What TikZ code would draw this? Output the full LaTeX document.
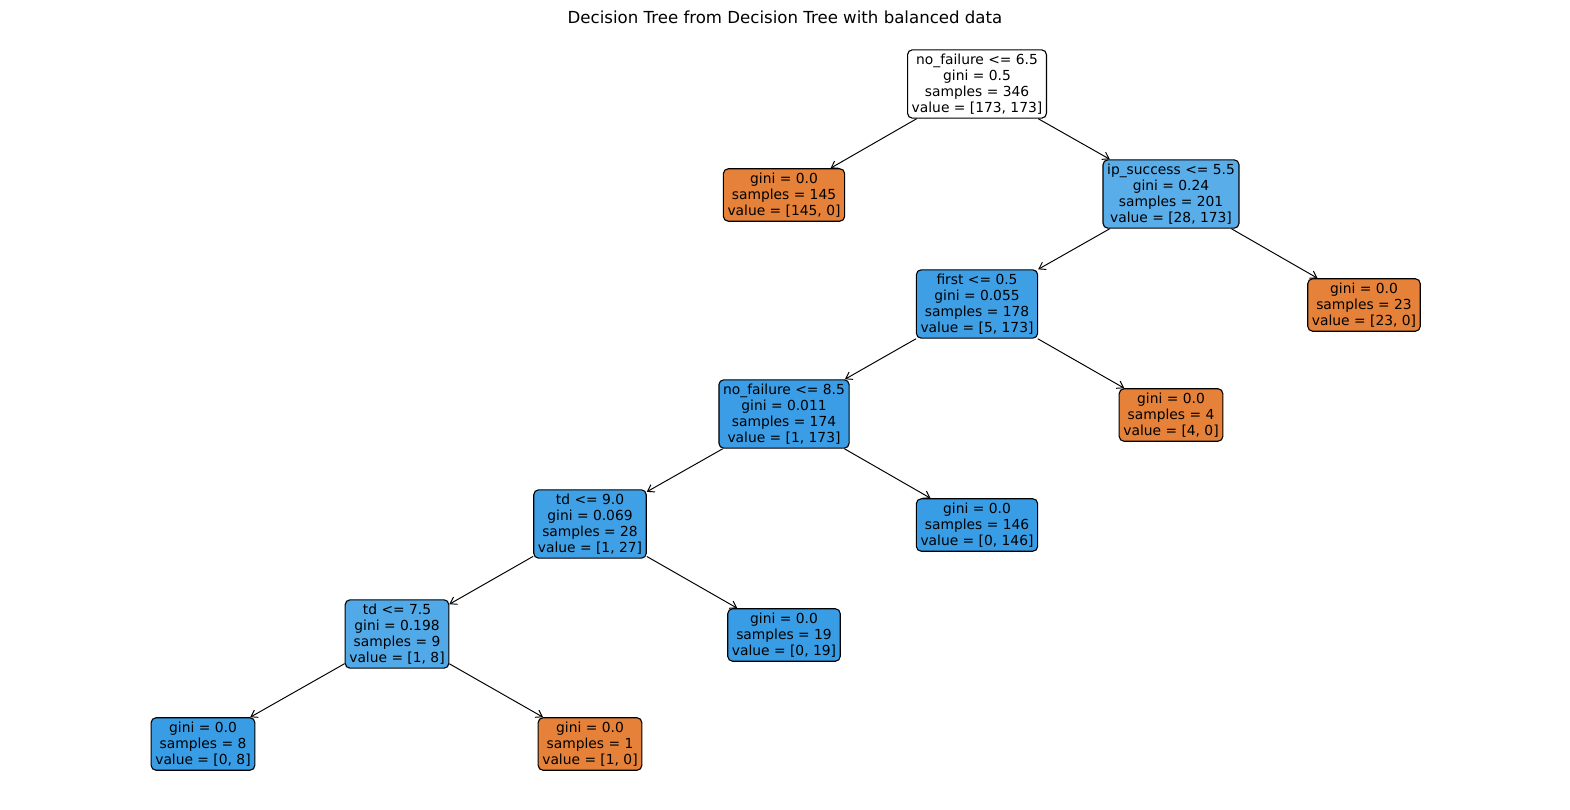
\documentclass[tikz,border=0pt]{standalone}
\usepackage{fontspec}
\setmainfont{DejaVu Sans}
\usetikzlibrary{arrows.meta}
\usetikzlibrary{positioning}
\definecolor{cls0}{HTML}{E58139}
\definecolor{cls1}{HTML}{399DE5}
\definecolor{cls1a}{HTML}{59ADE9}
\definecolor{cls1b}{HTML}{52A9E8}
\definecolor{cls1c}{HTML}{40A0E6}
\definecolor{cls1d}{HTML}{3E9FE5}
\definecolor{cls1e}{HTML}{3A9DE5}
\tikzset{box/.style = {draw, rounded corners = 3.5pt, align = center, line width = 0.8pt,
                       inner xsep = 3pt, inner ysep = 3pt,
                       font = \fontsize{10}{11.5}\selectfont}}
\tikzset{edge/.style = {-{Straight Barb[length=4.5pt, width=6pt]}, line width = 0.7pt}}

\begin{document}
\begin{tikzpicture}[x = 0.0254cm, y = -0.0254cm]
      \useasboundingbox (0, 0) rectangle (1570, 810);

      \node [font = \fontsize{12}{14}\selectfont] (title) at (785, 17) {Decision Tree from Decision Tree with balanced data};

      \node [box, fill = white] (root) at (977, 84) {no\_failure <= 6.5\\gini = 0.5\\samples = 346\\value = [173, 173]};
      \node [box, fill = cls0] (l145) at (784, 195) {gini = 0.0\\samples = 145\\value = [145, 0]};
      \node [box, fill = cls1a] (ip) at (1171, 194) {ip\_success <= 5.5\\gini = 0.24\\samples = 201\\value = [28, 173]};
      \node [box, fill = cls1d] (first) at (977, 304) {first <= 0.5\\gini = 0.055\\samples = 178\\value = [5, 173]};
      \node [box, fill = cls0] (l23) at (1364, 305) {gini = 0.0\\samples = 23\\value = [23, 0]};
      \node [box, fill = cls1e] (nf) at (784, 414) {no\_failure <= 8.5\\gini = 0.011\\samples = 174\\value = [1, 173]};
      \node [box, fill = cls0] (l4) at (1171, 415) {gini = 0.0\\samples = 4\\value = [4, 0]};
      \node [box, fill = cls1c] (tdnine) at (590, 524) {td <= 9.0\\gini = 0.069\\samples = 28\\value = [1, 27]};
      \node [box, fill = cls1] (l146) at (977, 525) {gini = 0.0\\samples = 146\\value = [0, 146]};
      \node [box, fill = cls1b] (tdseven) at (397, 634) {td <= 7.5\\gini = 0.198\\samples = 9\\value = [1, 8]};
      \node [box, fill = cls1] (l19) at (784, 635) {gini = 0.0\\samples = 19\\value = [0, 19]};
      \node [box, fill = cls1] (l8) at (203, 744) {gini = 0.0\\samples = 8\\value = [0, 8]};
      \node [box, fill = cls0] (l1) at (590, 744) {gini = 0.0\\samples = 1\\value = [1, 0]};

      \draw [edge] (root) -- (l145);
      \draw [edge] (root) -- (ip);
      \draw [edge] (ip) -- (first);
      \draw [edge] (ip) -- (l23);
      \draw [edge] (first) -- (nf);
      \draw [edge] (first) -- (l4);
      \draw [edge] (nf) -- (tdnine);
      \draw [edge] (nf) -- (l146);
      \draw [edge] (tdnine) -- (tdseven);
      \draw [edge] (tdnine) -- (l19);
      \draw [edge] (tdseven) -- (l8);
      \draw [edge] (tdseven) -- (l1);
    \end{tikzpicture}
\end{document}
